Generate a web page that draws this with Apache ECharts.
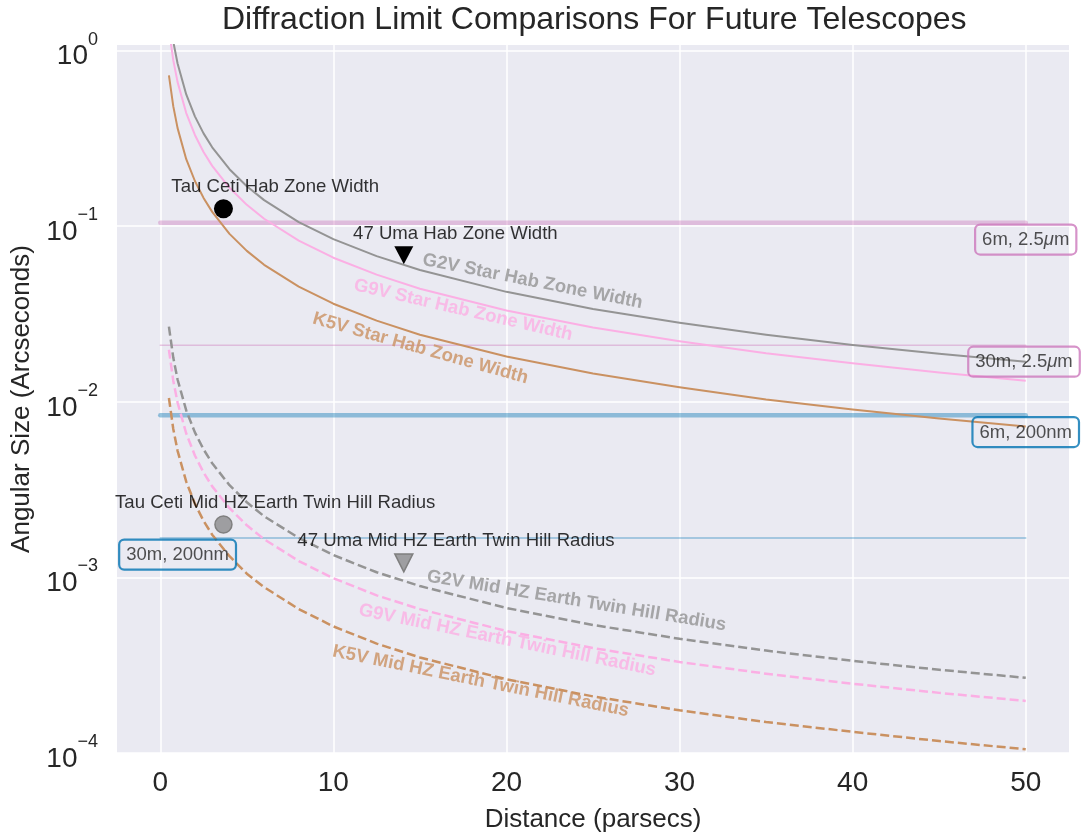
<!DOCTYPE html>
<html>
<head>
<meta charset="utf-8">
<title>Diffraction Limit Comparisons For Future Telescopes</title>
<script src="https://cdn.jsdelivr.net/npm/echarts@6/dist/echarts.min.js"></script>
<style>
    html, body { margin: 0; padding: 0; background: #fff; }
    #chart { width: 1081px; height: 839px; }
</style>
</head>
<body>
<div id="chart"></div>
<script>
// distances (parsecs) the curves were read at
const dist = [0.5, 0.75, 1, 1.5, 2, 2.5, 3, 4, 5, 6, 8, 10, 12.5, 15, 20, 25, 30, 35, 40, 45, 50];

// hab zone widths (arcsec)
const g2vHab = [1.69, 1.127, 0.845, 0.563, 0.4225, 0.338, 0.2817, 0.2113, 0.169, 0.1408, 0.1056, 0.0845, 0.0676, 0.0563, 0.0423, 0.0338, 0.0282, 0.0241, 0.0211, 0.0188, 0.0169];
const g9vHab = [1.324, 0.883, 0.662, 0.441, 0.331, 0.265, 0.2207, 0.1655, 0.1324, 0.1103, 0.0828, 0.0662, 0.053, 0.0441, 0.0331, 0.0265, 0.0221, 0.0189, 0.0166, 0.0147, 0.0132];
const k5vHab = [0.724, 0.483, 0.362, 0.241, 0.181, 0.145, 0.1207, 0.0905, 0.0724, 0.0603, 0.0453, 0.0362, 0.029, 0.0241, 0.0181, 0.0145, 0.0121, 0.0103, 0.00905, 0.00804, 0.00724];

// mid HZ earth twin hill radius (arcsec)
const g2vHill = [0.0268, 0.01787, 0.0134, 0.00893, 0.0067, 0.00536, 0.00447, 0.00335, 0.00268, 0.00223, 0.00168, 0.00134, 0.00107, 0.000893, 0.00067, 0.000536, 0.000447, 0.000383, 0.000335, 0.000298, 0.000268];
const g9vHill = [0.0198, 0.0132, 0.0099, 0.0066, 0.00495, 0.00396, 0.0033, 0.00248, 0.00198, 0.00165, 0.00124, 0.00099, 0.00079, 0.00066, 0.000495, 0.000396, 0.00033, 0.000283, 0.000248, 0.00022, 0.000198];
const k5vHill = [0.01052, 0.00701, 0.00526, 0.00351, 0.00263, 0.0021, 0.00175, 0.00132, 0.00105, 0.00088, 0.00066, 0.000526, 0.00042, 0.00035, 0.000263, 0.00021, 0.000175, 0.00015, 0.000132, 0.000117, 0.000105];

// diffraction limits 1.22 lambda / D (arcsec)
const diffNames = ['6m, 2.5{i|μ}m', '30m, 2.5{i|μ}m', '6m, 200nm', '30m, 200nm'];
const diffLimits = [0.1048, 0.02097, 0.00839, 0.001677];
const diffRange = [0, 50];
const diffLabelX = [50, 49.9, 50, 1.0];
const diffLabelY = [0.0840, 0.01692, 0.00673, 0.001349];

// real systems: Tau Ceti, 47 Uma
const starDist = [3.65, 14.07];
const starHab = [0.1257, 0.0684];
const starHill = [0.0020, 0.00121];

const noteText = ['Tau Ceti Hab Zone Width', '47 Uma Hab Zone Width', 'Tau Ceti Mid HZ Earth Twin Hill Radius', '47 Uma Mid HZ Earth Twin Hill Radius'];
const noteX = [6.64, 17.05, 6.64, 17.08];
const noteY = [0.167, 0.0909, 0.002667, 0.001623];

const curveNames = ['G2V Star Hab Zone Width', 'G9V Star Hab Zone Width', 'K5V Star Hab Zone Width',
    'G2V Mid HZ Earth Twin Hill Radius', 'G9V Mid HZ Earth Twin Hill Radius', 'K5V Mid HZ Earth Twin Hill Radius'];
const curveLabelX = [21.51, 17.5, 15.03, 24.05, 20.05, 18.51];
const curveLabelY = [0.04851, 0.03327, 0.02014, 0.000735, 0.0004385, 0.0002561];
const curveLabelRot = [-11.2, -13, -15.7, -9.3, -11.5, -11.5];

const FONT = '"Liberation Sans", Arial, Helvetica, sans-serif';
const TXT = '#262626';
const gray = '#949494', pink = '#fbafe4', brown = '#ca9161';
const purple = '#cc78bc', blue = '#0173b2';
const curveColors = [gray, pink, brown, gray, pink, brown];
const diffColors = [purple, purple, blue, blue];
const diffFaint = ['rgba(204,120,188,0.4)', 'rgba(204,120,188,0.4)', 'rgba(1,115,178,0.4)', 'rgba(1,115,178,0.4)'];
const diffWidth = [4.5, 1.5, 4.5, 1.5];

const pairs = (ys) => dist.map((d, i) => [d, ys[i]]);

let series = [];

// horizontal diffraction limit lines
diffLimits.forEach((v, i) => {
    series.push({
        type: 'line',
        data: diffRange.map(x => [x, v]),
        symbol: 'none',
        silent: true,
        z: 1,
        lineStyle: { color: diffFaint[i], width: diffWidth[i], cap: 'round' }
    });
});

// curves
[g2vHab, g9vHab, k5vHab].forEach((ys, i) => {
    series.push({
        type: 'line', data: pairs(ys), symbol: 'none',
        z: 2, lineStyle: { color: curveColors[i], width: 2, join: 'round' }
    });
});
[g2vHill, g9vHill, k5vHill].forEach((ys, i) => {
    series.push({
        type: 'line', data: pairs(ys), symbol: 'none',
        z: 2, lineStyle: { color: curveColors[i], width: 2.5, type: [9, 4], join: 'round' }
    });
});

// star markers
series.push({
    type: 'scatter', z: 4,
    data: [
        { value: [starDist[0], starHab[0]], symbol: 'circle', symbolSize: 19 },
        { value: [starDist[1], starHab[1]], symbol: 'triangle', symbolSize: [19, 18], symbolRotate: 180 }
    ],
    itemStyle: { color: '#000', opacity: 1 }
});
series.push({
    type: 'scatter', z: 4,
    data: [
        { value: [starDist[0], starHill[0]], symbol: 'circle', symbolSize: 17 },
        { value: [starDist[1], starHill[1]], symbol: 'triangle', symbolSize: [18, 18], symbolRotate: 180 }
    ],
    itemStyle: { color: 'rgba(150,150,152,0.9)', borderColor: '#7f7f7f', borderWidth: 1.5, opacity: 1 }
});

// annotation text
series.push({
    type: 'scatter', z: 5, symbolSize: 0, silent: true,
    data: noteText.map((t, i) => ({ value: [noteX[i], noteY[i]], name: t })),
    label: { show: true, position: 'inside', formatter: p => p.name, color: '#000', fontSize: 18.6, fontFamily: FONT }
});

// curve labels
series.push({
    type: 'scatter', z: 5, symbolSize: 0, silent: true,
    data: curveNames.map((t, i) => ({
        value: [curveLabelX[i], curveLabelY[i]], name: t,
        label: { rotate: curveLabelRot[i], color: curveColors[i] }
    })),
    label: { show: true, position: 'inside', formatter: p => p.name, fontSize: 18.5, fontWeight: 'bold', fontFamily: FONT }
});

// boxed telescope labels
series.push({
    type: 'scatter', z: 6, symbolSize: 0, silent: true,
    data: diffNames.map((t, i) => ({
        value: [diffLabelX[i], diffLabelY[i]], name: t,
        label: { borderColor: diffColors[i] }
    })),
    label: {
        show: true, position: 'inside', formatter: p => p.name,
        color: TXT, fontSize: 18.5, fontFamily: FONT,
        borderWidth: 2.2, borderRadius: 5, padding: [6, 7, 5, 7],
        rich: { i: { fontStyle: 'italic', fontSize: 18.5, fontFamily: FONT, color: TXT } }
    }
});

const supFmt = (value) => {
    const lg = Math.log10(value);
    const e = Math.round(lg);
    if (Math.abs(lg - e) > 1e-6) return '';
    return '{h| }{b|10}{s|' + (e < 0 ? '\u2212' + (-e) : e) + '}';
};

const myChart = echarts.init(document.getElementById('chart'), null, { renderer: 'canvas' });
myChart.setOption({
    animation: false,
    backgroundColor: '#ffffff',
    title: {
        text: 'Diffraction Limit Comparisons For Future Telescopes',
        left: 222, top: 4, padding: 0,
        textStyle: { fontSize: 32, fontWeight: 'normal', color: TXT, fontFamily: FONT }
    },
    grid: {
        left: 117, right: 12, top: 45, bottom: 86,
        show: true, backgroundColor: '#eaeaf2', borderWidth: 0
    },
    xAxis: {
        type: 'value', min: -2.5, max: 52.5,
        name: 'Distance (parsecs)', nameLocation: 'middle', nameGap: 54,
        nameTextStyle: { fontSize: 26, color: TXT, fontFamily: FONT },
        axisLine: { show: false }, axisTick: { show: false },
        axisLabel: {
            fontSize: 28, color: TXT, fontFamily: FONT, margin: 16,
            formatter: v => (Math.abs(v % 10) < 1e-9 ? String(v) : '')
        },
        splitLine: { show: true, showMinLine: false, showMaxLine: false, lineStyle: { color: '#ffffff', width: 1.5 } }
    },
    yAxis: {
        type: 'log', min: 1e-4, max: 1.077, logBase: 10,
        name: 'Angular Size (Arcseconds)', nameLocation: 'middle', nameGap: 80, nameRotate: 90,
        nameTextStyle: { fontSize: 26, color: TXT, fontFamily: FONT },
        axisLine: { show: false }, axisTick: { show: false },
        axisLabel: {
            margin: 19, color: TXT, fontFamily: FONT,
            formatter: supFmt,
            rich: {
                h: { fontSize: 1, lineHeight: 40, width: 0 },
                b: { fontSize: 28, lineHeight: 28, verticalAlign: 'bottom', color: TXT, fontFamily: FONT },
                s: { fontSize: 18, lineHeight: 18, verticalAlign: 'top', color: TXT, fontFamily: FONT }
            }
        },
        minorTick: { show: false },
        splitLine: { show: true, showMaxLine: false, lineStyle: { color: '#ffffff', width: 1.5 } }
    },
    series: series
});
window.addEventListener('resize', () => { myChart.resize() });
</script>
</body>
</html>
